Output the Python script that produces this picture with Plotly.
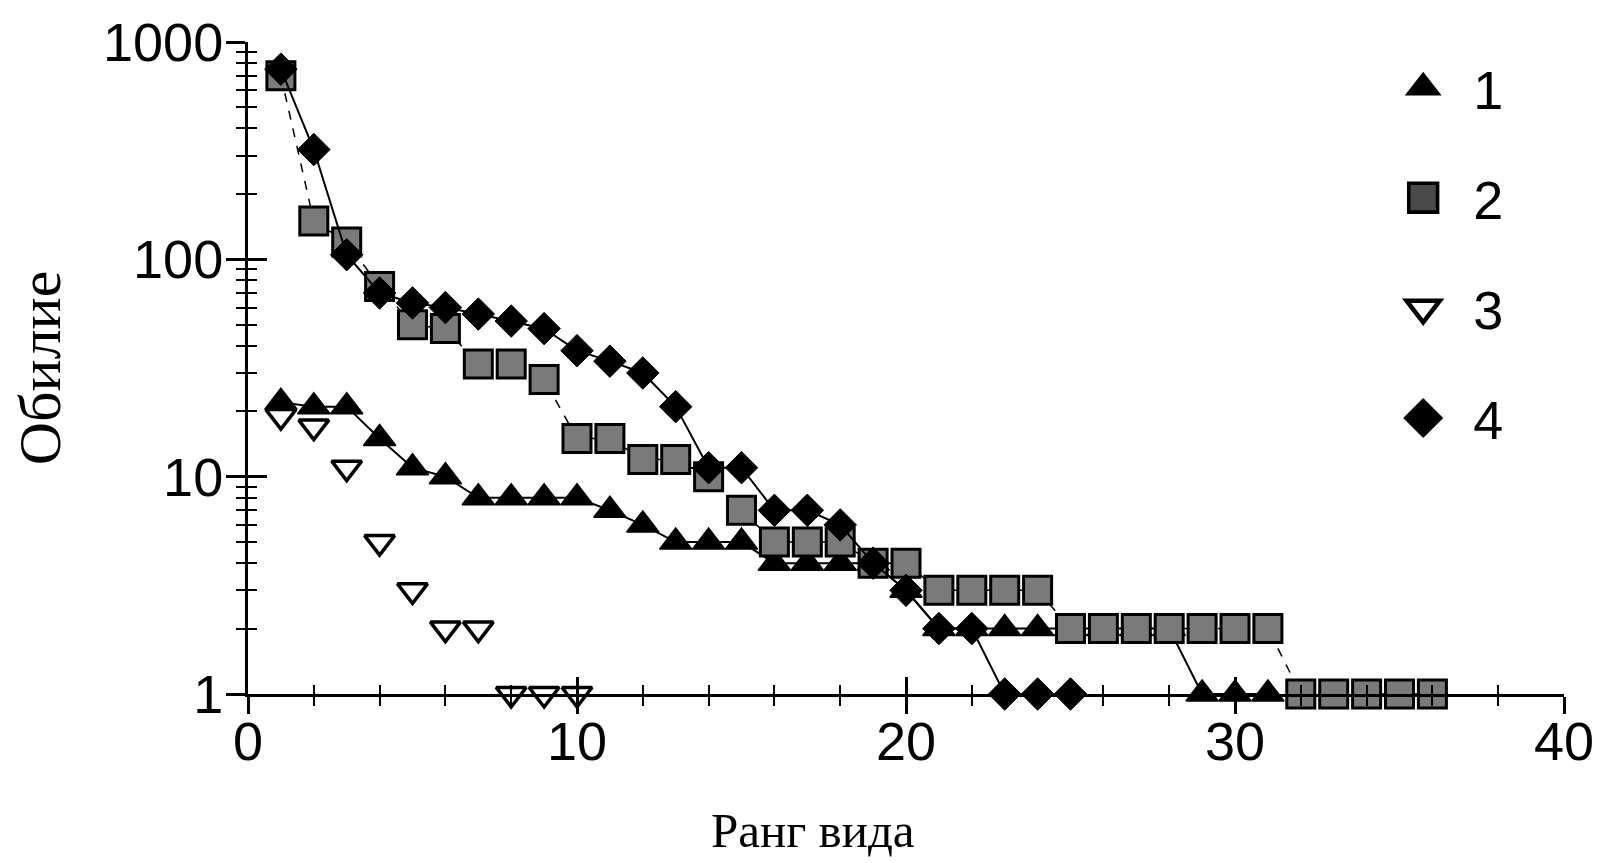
import plotly.graph_objects as go

# ---- data ----
series_names = ["1", "2", "3", "4"]
s1 = [22, 21, 21, 15, 11, 10, 8, 8, 8, 8, 7, 6, 5, 5, 5, 4, 4, 4, 4, 3,
      2, 2, 2, 2, 2, 2, 2, 2, 1, 1, 1]
s2 = [700, 150, 120, 75, 50, 48, 33, 33, 28, 15, 15, 12, 12, 10, 7, 5, 5, 5,
      4, 4, 3, 3, 3, 3, 2, 2, 2, 2, 2, 2, 2, 1, 1, 1, 1, 1]
s3 = [19, 17, 11, 5, 3, 2, 2, 1, 1, 1]
s4 = [750, 320, 105, 70, 63, 60, 56, 52, 48, 38, 34, 30, 21, 11, 11, 7, 7, 6,
      4, 3, 2, 2, 1, 1, 1]

x_tickvals = [0, 10, 20, 30, 40]
x_ticktext = ["0", "10", "20", "30", "40"]
y_tickvals = [1, 10, 100, 1000]
y_ticktext = ["1", "10", "100", "1000"]
y_minor = [m * d for d in (1, 10, 100) for m in range(2, 10)]

x_title = "Ранг вида"
y_title = "Обилие"


def ranks(vals):
    return list(range(1, len(vals) + 1))


fig = go.Figure()

# series 1: filled triangles, solid line
fig.add_trace(go.Scatter(
    x=ranks(s1), y=s1, mode="lines+markers", name=series_names[0],
    line=dict(color="black", width=2),
    marker=dict(symbol="triangle-up", size=28, color="black",
                line=dict(color="black", width=1.5)),
    cliponaxis=False, showlegend=False))
# series 2: grey squares, dashed line
fig.add_trace(go.Scatter(
    x=ranks(s2), y=s2, mode="lines+markers", name=series_names[1],
    line=dict(color="black", width=1.5, dash="dash"),
    marker=dict(symbol="square", size=28, color="#7a7a7a",
                line=dict(color="black", width=3)),
    cliponaxis=False, showlegend=False))
# series 3: open inverted triangles, no line
fig.add_trace(go.Scatter(
    x=ranks(s3), y=s3, mode="markers", name=series_names[2],
    marker=dict(symbol="triangle-down", size=26, color="white",
                line=dict(color="black", width=3.5)),
    cliponaxis=False, showlegend=False))
# series 4: filled diamonds, solid line
fig.add_trace(go.Scatter(
    x=ranks(s4), y=s4, mode="lines+markers", name=series_names[3],
    line=dict(color="black", width=2),
    marker=dict(symbol="diamond", size=25, color="black",
                line=dict(color="black", width=1)),
    cliponaxis=False, showlegend=False))

# legend-only entries (symbols without line)
legend_markers = [
    dict(symbol="triangle-up", size=16, color="black", line=dict(color="black", width=1)),
    dict(symbol="square", size=16, color="#4a4a4a", line=dict(color="black", width=2)),
    dict(symbol="triangle-down", size=16, color="white", line=dict(color="black", width=2.5)),
    dict(symbol="diamond", size=16, color="black", line=dict(color="black", width=1)),
]
for i, (nm, mk) in enumerate(zip(series_names, legend_markers)):
    fig.add_trace(go.Scatter(
        x=[None], y=[None], mode="markers", name=nm, marker=mk,
        legendgroup="g%d" % i, showlegend=True, hoverinfo="skip"))

# dummy trace so the overlay axes (inner half of the crossing ticks) are drawn
fig.add_trace(go.Scatter(x=[None], y=[None], xaxis="x2", yaxis="y2",
                         showlegend=False, hoverinfo="skip"))

tick_font = dict(family="Liberation Sans, Arial, sans-serif", size=54, color="black")
serif = "Liberation Serif, Times New Roman, serif"

fig.update_layout(
    width=1606, height=863,
    paper_bgcolor="white", plot_bgcolor="white",
    margin=dict(l=248, r=38, t=33, b=169),
    xaxis=dict(
        range=[0, 40], tickmode="array", tickvals=x_tickvals, ticktext=x_ticktext,
        ticks="outside", ticklen=17, tickwidth=3, tickcolor="black",
        minor=dict(dtick=2, ticks="outside", ticklen=9, tickwidth=2, tickcolor="black"),
        showline=True, linewidth=3, linecolor="black",
        showgrid=False, zeroline=False, tickfont=tick_font,
        ticklabelstandoff=-19, ticklabeloverflow="allow",
    ),
    yaxis=dict(
        type="log", range=[0, 3], tickmode="array", tickvals=y_tickvals,
        ticktext=y_ticktext,
        ticks="outside", ticklen=19, tickwidth=3, tickcolor="black",
        minor=dict(tickmode="array", tickvals=y_minor, ticks="outside",
                   ticklen=9, tickwidth=2, tickcolor="black"),
        showline=True, linewidth=3, linecolor="black",
        showgrid=False, zeroline=False, tickfont=tick_font,
        ticklabelstandoff=-8, ticklabeloverflow="allow",
        title=dict(text=y_title, standoff=24,
                   font=dict(family=serif, size=60, color="black")),
    ),
    xaxis2=dict(
        overlaying="x", anchor="y2", range=[0, 40], tickmode="array",
        tickvals=x_tickvals, showticklabels=False,
        ticks="inside", ticklen=17, tickwidth=3, tickcolor="black",
        minor=dict(dtick=2, ticks="inside", ticklen=9, tickwidth=2, tickcolor="black"),
        showline=False, showgrid=False, zeroline=False,
    ),
    yaxis2=dict(
        overlaying="y", anchor="x2", type="log", range=[0, 3], tickmode="array",
        tickvals=y_tickvals, showticklabels=False,
        ticks="inside", ticklen=19, tickwidth=3, tickcolor="black",
        minor=dict(tickmode="array", tickvals=y_minor, ticks="inside",
                   ticklen=9, tickwidth=2, tickcolor="black"),
        showline=False, showgrid=False, zeroline=False,
    ),
    legend=dict(
        x=0.855, y=0.994, xanchor="left", yanchor="top",
        font=dict(family="Liberation Sans, Arial, sans-serif", size=54, color="black"),
        bgcolor="rgba(0,0,0,0)", traceorder="grouped", tracegroupgap=37,
        itemwidth=90,
    ),
    annotations=[dict(
        text=x_title, xref="paper", yref="paper", x=0.4295, y=-0.254,
        xanchor="center", yanchor="bottom", showarrow=False,
        font=dict(family=serif, size=49, color="black"),
    )],
    showlegend=True,
)

post = """
document.body.style.margin = '0';
document.body.style.overflow = 'hidden';
var gd = document.getElementById('{plot_id}');
function bigLegend(){
  gd.querySelectorAll('.legendpoints path.scatterpts').forEach(function(p){
    var t = p.getAttribute('transform') || '';
    if (t.indexOf('scale') < 0) { p.setAttribute('transform', t + ' scale(1.8)'); }
  });
}
bigLegend();
gd.on('plotly_afterplot', bigLegend);
"""

fig.write_html("out.html", post_script=post, config={"displayModeBar": False})
